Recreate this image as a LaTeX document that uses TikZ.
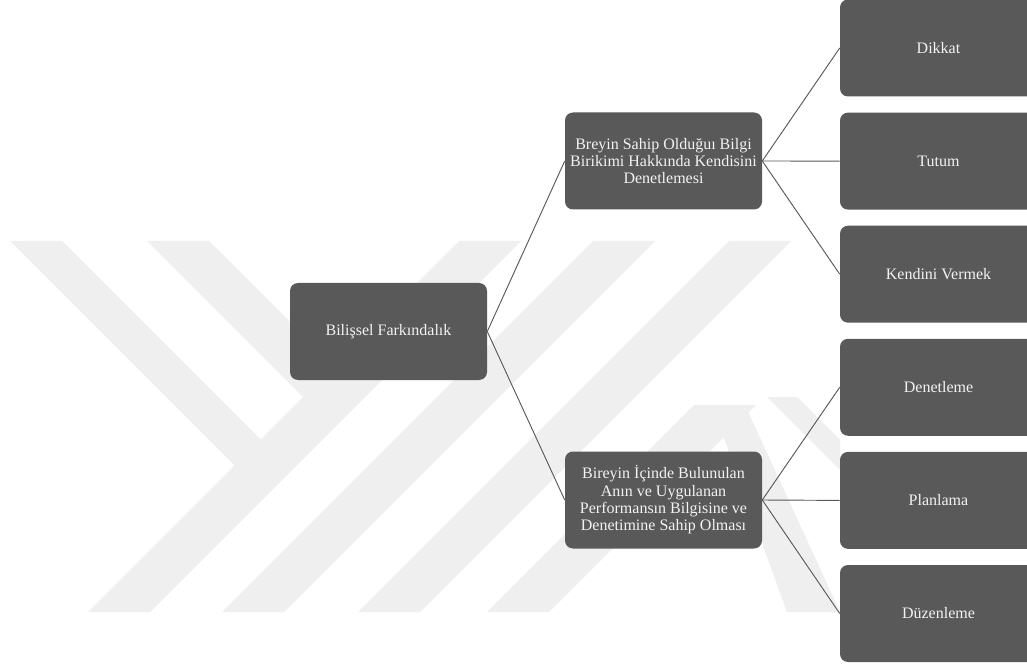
\documentclass[tikz,border=0pt]{standalone}
\usepackage{fontspec}
\setmainfont{Liberation Serif}
\usetikzlibrary{positioning}

\definecolor{kutugri}{HTML}{595959}
\definecolor{yazigri}{HTML}{F2F2F2}
\definecolor{izgri}{HTML}{EFEFEF}

\tikzset{
  kutu/.style={fill=kutugri, rounded corners=6pt, text=yazigri,
    minimum width=147.75pt, minimum height=72.75pt, align=center,
    inner sep=1pt, font=\fontsize{12}{13}\selectfont},
  bag/.style={draw=kutugri, line width=0.7pt},
  iz/.style={fill=izgri}
}

\begin{document}
\begin{tikzpicture}[x=0.75pt, y=-0.75pt]
\clip (0,0) rectangle (1027,666);
\fill[white] (0,0) rectangle (1027,666);

% filigran
\fill[iz] (10,241) -- (62,241) -- (260.5,439.5) -- (234.5,465.5) -- cycle;
\fill[iz] (147,241) -- (209,241) -- (334,366) -- (303,397) -- cycle;
\foreach \b in {88,222,358}
	\fill[iz] (\b,612) -- (\b+62,612) -- (\b+433,241) -- (\b+371,241) -- cycle;
\fill[iz] (487,612) -- (549,612) -- (756,405) -- (694,405) -- cycle;
\fill[iz] (712,405) -- (745,405) -- (840,612) -- (787,612) -- cycle;
\fill[iz] (767,397) -- (797,397) -- (840,440) -- (840,470) -- cycle;


\node[kutu](bf) at (388.5,331.5) {Bilişsel Farkındalık};

\node[kutu](m1) at (663.5,161) {Breyin Sahip Olduğuı Bilgi\\Birikimi Hakkında Kendisini\\Denetlemesi};
\node[kutu](m2) at (663.5,500) {Bireyin İçinde Bulunulan\\Anın ve Uygulanan\\Performansın Bilgisine ve\\Denetimine Sahip Olması};

\foreach \ad [count=\i] in {Dikkat, Tutum, Kendini Vermek, Denetleme, Planlama, Düzenleme}
	\node[kutu](l\i) at (938.5,{48+(\i-1)*113.1}) {\ad};


\draw[bag] (bf.east) -- (m1.west);
\draw[bag] (bf.east) -- (m2.west);

\foreach \i in {1,2,3}
	\draw[bag] (m1.east) -- (l\i.west);
\foreach \i in {4,5,6}
	\draw[bag] (m2.east) -- (l\i.west);


\end{tikzpicture}
\end{document}
